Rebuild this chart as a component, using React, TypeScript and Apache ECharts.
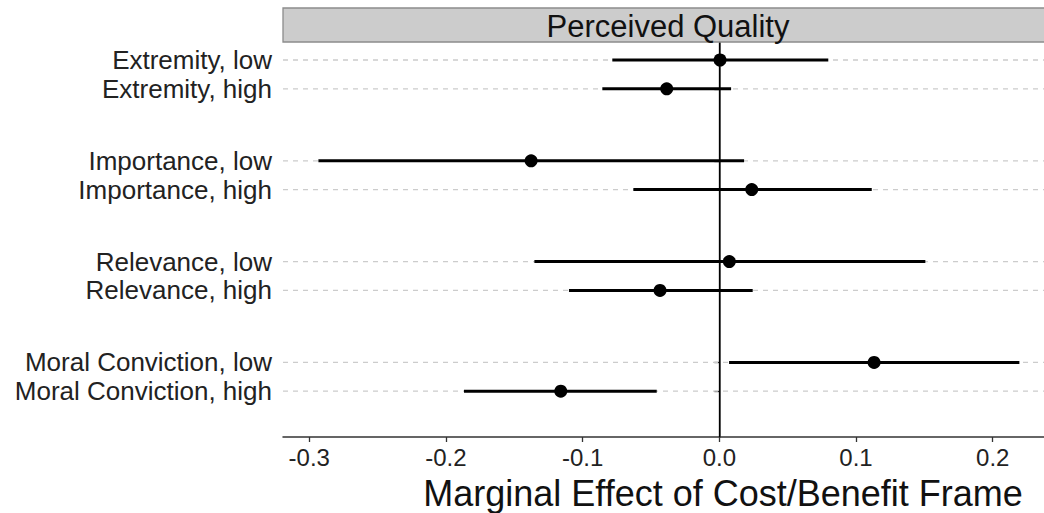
import React, { useEffect, useRef } from "react";
import * as echarts from "echarts";

const rowLabels = [
  "Extremity, low",
  "Extremity, high",
  "Importance, low",
  "Importance, high",
  "Relevance, low",
  "Relevance, high",
  "Moral Conviction, low",
  "Moral Conviction, high",
];
const rowPositions = [1, 2, 4.5, 5.5, 8, 9, 11.5, 12.5];
const estimates = [0.0005, -0.0385, -0.1377, 0.0237, 0.0073, -0.0434, 0.1132, -0.116];
const lowerCI = [-0.0783, -0.0856, -0.2933, -0.0629, -0.1353, -0.11, 0.0071, -0.1868];
const upperCI = [0.0797, 0.0086, 0.0181, 0.1115, 0.1507, 0.0244, 0.2195, -0.0458];
const xTicks = [-0.3, -0.2, -0.1, 0.0, 0.1, 0.2];
const panelTitle = "Perceived Quality";
const xTitle = "Marginal Effect of Cost/Benefit Frame";

const FONT = "'Liberation Sans', Arial, Helvetica, sans-serif";

export default function App() {
  const ref = useRef<HTMLDivElement>(null);
  useEffect(() => {
    if (!ref.current) return;
    const chart = echarts.init(ref.current, null, { renderer: "svg" });
    const labelByPos: Record<string, string> = {};
    rowPositions.forEach((p, i) => (labelByPos[String(p)] = rowLabels[i]));
    const barData = rowPositions.map((p, i) => [lowerCI[i], upperCI[i], p]);
    const pointData = rowPositions.map((p, i) => [estimates[i], p]);
    const gridData = rowPositions.map((p) => [0, p]);

    chart.setOption({
      animation: false,
      backgroundColor: "#ffffff",
      grid: { left: 283, right: 0, top: 42, bottom: 76, containLabel: false, outerBoundsMode: "none" },
      xAxis: {
        type: "value",
        min: -0.3192,
        max: 0.2375,
        axisLine: { show: true, lineStyle: { color: "#333333", width: 1.5 } },
        axisTick: { show: true, customValues: xTicks, length: 5, lineStyle: { color: "#333333", width: 1.3 } },
        axisLabel: {
          customValues: xTicks,
          formatter: (v: number) => v.toFixed(1),
          fontFamily: FONT,
          fontSize: 24,
          color: "#222222",
          margin: 8,
        },
        splitLine: { show: false },
      },
      yAxis: {
        type: "value",
        inverse: true,
        min: 0.375,
        max: 14.09,
        axisLine: { show: true, lineStyle: { color: "#333333", width: 1.5 } },
        axisTick: { show: true, customValues: rowPositions, length: 5, lineStyle: { color: "#333333", width: 1.3 } },
        axisLabel: {
          customValues: rowPositions,
          formatter: (v: number) => labelByPos[String(v)] ?? "",
          fontFamily: FONT,
          fontSize: 26,
          color: "#222222",
          margin: 11,
        },
        splitLine: { show: false },
      },
      series: [
        {
          type: "custom",
          data: gridData,
          silent: true,
          renderItem: (params: any, api: any) => {
            const cs = params.coordSys;
            const c = api.coord([0, api.value(1)]);
            return {
              type: "line",
              shape: { x1: cs.x, y1: c[1], x2: cs.x + cs.width, y2: c[1] },
              style: { stroke: "#cccccc", lineWidth: 1.3, lineDash: [5, 5] },
            };
          },
          encode: { x: 0, y: 1 },
          z: 1,
        },
        {
          type: "custom",
          data: barData,
          renderItem: (params: any, api: any) => {
            const a = api.coord([api.value(0), api.value(2)]);
            const b = api.coord([api.value(1), api.value(2)]);
            return {
              type: "line",
              shape: { x1: a[0], y1: a[1], x2: b[0], y2: b[1] },
              style: { stroke: "#000000", lineWidth: 3 },
            };
          },
          encode: { x: [0, 1], y: 2 },
          z: 3,
        },
        {
          type: "scatter",
          data: pointData,
          symbol: "circle",
          symbolSize: 13,
          itemStyle: { color: "#000000", opacity: 1 },
          markLine: {
            silent: true,
            symbol: "none",
            label: { show: false },
            lineStyle: { color: "#000000", width: 1.3, type: "solid", opacity: 1 },
            data: [{ xAxis: 0 }],
          },
          z: 4,
        },
      ],
      graphic: [
        {
          type: "rect",
          shape: { x: 283, y: 8, width: 780, height: 34 },
          style: { fill: "#cccccc", stroke: "#8c8c8c", lineWidth: 1.3 },
          z: 10,
        },
        {
          type: "text",
          x: 668,
          y: 26,
          style: {
            text: panelTitle,
            fontFamily: FONT,
            fontSize: 31,
            fill: "#111111",
            textAlign: "center",
            textVerticalAlign: "middle",
          },
          z: 11,
        },
        {
          type: "text",
          x: 723,
          y: 493,
          style: {
            text: xTitle,
            fontFamily: FONT,
            fontSize: 36,
            fill: "#111111",
            textAlign: "center",
            textVerticalAlign: "middle",
          },
          z: 11,
        },
      ],
    });
    return () => chart.dispose();
  }, []);
  return (
    <div
      ref={ref}
      style={{ position: "fixed", left: 0, top: 0, width: 1044, height: 513, background: "#fff" }}
    />
  );
}
